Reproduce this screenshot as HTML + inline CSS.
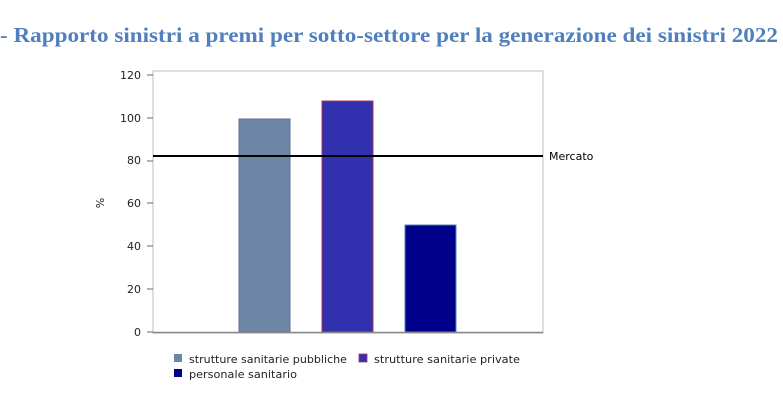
<!DOCTYPE html>
<html><head><meta charset="utf-8"><style>html,body{margin:0;padding:0;background:#fff}svg{display:block}</style></head>
<body>
<svg width="783" height="417" xmlns="http://www.w3.org/2000/svg">
<text x="0" y="42" font-family="Liberation Serif, serif" font-weight="bold" font-size="21" fill="#4f7fbf" textLength="778" lengthAdjust="spacingAndGlyphs">- Rapporto sinistri a premi per sotto-settore per la generazione dei sinistri 2022</text>
<rect x="153" y="71" width="390" height="262" fill="#fff" stroke="#c8c8c8" stroke-width="1.2"/>
<g font-family="DejaVu Sans, sans-serif" font-size="11" fill="#222" text-anchor="end">
<text x="141" y="79">120</text><text x="141" y="122">100</text><text x="141" y="164">80</text>
<text x="141" y="207">60</text><text x="141" y="250">40</text><text x="141" y="293">20</text><text x="141" y="336">0</text>
</g>
<g stroke="#666" stroke-width="1">
<line x1="147" y1="75" x2="153" y2="75"/><line x1="147" y1="118" x2="153" y2="118"/><line x1="147" y1="161" x2="153" y2="161"/>
<line x1="147" y1="203" x2="153" y2="203"/><line x1="147" y1="246" x2="153" y2="246"/><line x1="147" y1="289" x2="153" y2="289"/><line x1="147" y1="332" x2="153" y2="332"/>
</g>
<text transform="translate(104,203) rotate(-90)" font-family="DejaVu Sans, sans-serif" font-size="11" fill="#222" text-anchor="middle">%</text>
<rect x="239" y="119" width="51" height="213" fill="#6e86a6" stroke="#5a6f99" stroke-width="1"/>
<rect x="322" y="101" width="51" height="231" fill="#3131b0" stroke="#b03050" stroke-width="1"/>
<rect x="405" y="225" width="51" height="107" fill="#00008b" stroke="#4a8ab0" stroke-width="1"/>
<line x1="153" y1="332.5" x2="543" y2="332.5" stroke="#888" stroke-width="1.5"/>
<line x1="153" y1="156" x2="543" y2="156" stroke="#000" stroke-width="2"/>
<text x="549" y="160" font-family="DejaVu Sans, sans-serif" font-size="11" fill="#000">Mercato</text>
<g font-family="DejaVu Sans, sans-serif" font-size="11" fill="#222">
<rect x="174" y="354" width="8" height="8" fill="#6e86a6"/><text x="189" y="363" textLength="158" lengthAdjust="spacingAndGlyphs">strutture sanitarie pubbliche</text>
<rect x="359" y="354" width="8" height="8" fill="#3131b0" stroke="#b03050" stroke-width="0.8"/><text x="374" y="363" textLength="146" lengthAdjust="spacingAndGlyphs">strutture sanitarie private</text>
<rect x="174" y="369" width="8" height="8" fill="#00008b"/><text x="189" y="378" textLength="108" lengthAdjust="spacingAndGlyphs">personale sanitario</text>
</g>
</svg>
</body></html>
